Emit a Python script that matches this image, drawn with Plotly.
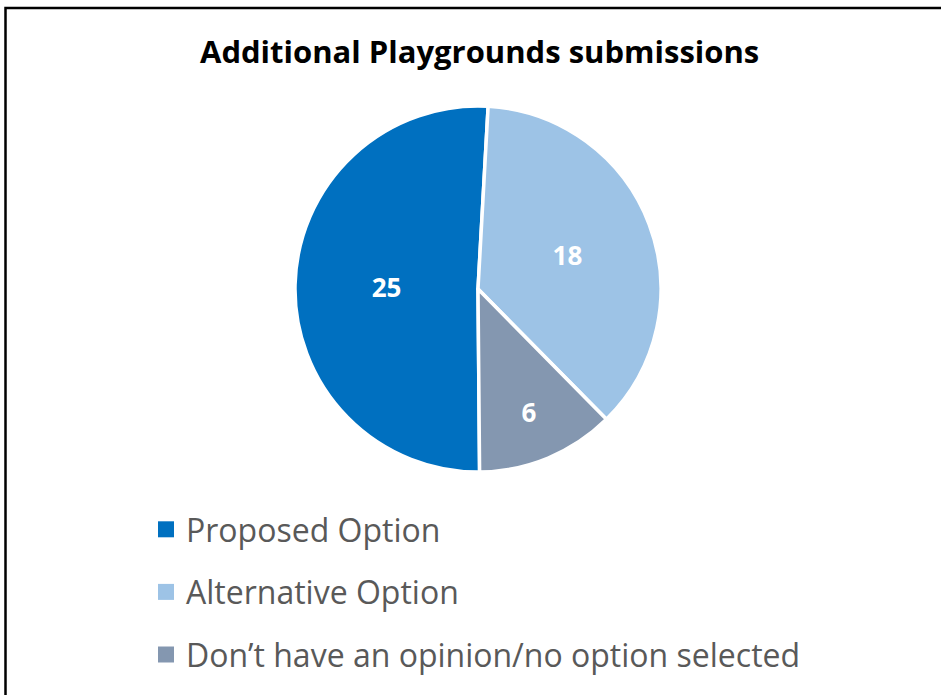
import plotly.graph_objects as go

labels = ["Proposed Option", "Alternative Option", "Don\u2019t have an opinion/no option selected"]
values = [25, 18, 6]
colors = ["#0070C0", "#9DC3E6", "#8497B0"]
title_text = "Additional Playgrounds submissions"

W, H = 941, 695
cx, cy, r = 478, 289, 183

fig = go.Figure()
fig.add_trace(go.Pie(
    labels=labels, values=values, sort=False, direction="clockwise", rotation=179.5,
    marker=dict(colors=colors, line=dict(color="white", width=3.5)),
    textinfo="value", textposition="inside", insidetextorientation="horizontal",
    textfont=dict(family="Open Sans", size=26, color="white", weight="bold"),
    showlegend=False, hoverinfo="label+value",
    domain=dict(x=[(cx - r) / W, (cx + r) / W], y=[1 - (cy + r) / H, 1 - (cy - r) / H]),
))

for i, (lab, col) in enumerate(zip(labels, colors)):
    fig.add_trace(go.Scatter(
        x=[None], y=[None], mode="markers", name=lab, legendgroup=f"g{i}",
        marker=dict(symbol="square", size=16, color=col),
        hoverinfo="skip",
    ))

fig.update_layout(
    width=W, height=H,
    margin=dict(l=0, r=0, t=0, b=0),
    paper_bgcolor="white", plot_bgcolor="white",
    xaxis=dict(visible=False), yaxis=dict(visible=False),
    showlegend=True,
    legend=dict(
        x=146 / W, y=1 - 502 / H, xanchor="left", yanchor="top",
        font=dict(family="Open Sans", size=32, color="#595959"),
        tracegroupgap=18, itemsizing="trace", bgcolor="rgba(0,0,0,0)",
    ),
    annotations=[dict(
        text=title_text, x=479 / W, y=1 - 51 / H, xref="paper", yref="paper",
        xanchor="center", yanchor="middle", showarrow=False,
        font=dict(family="Open Sans", size=31, color="black", weight="bold"),
    )],
    shapes=[dict(
        type="rect", xref="paper", yref="paper",
        x0=5.5 / W, x1=1.2, y0=-0.2, y1=1 - 8 / H,
        line=dict(color="black", width=2.5), fillcolor="rgba(0,0,0,0)",
    )],
)

fig.write_html(
    "out.html",
    config={"displayModeBar": False},
    post_script="document.body.style.margin='0';document.body.style.overflow='hidden';",
)
